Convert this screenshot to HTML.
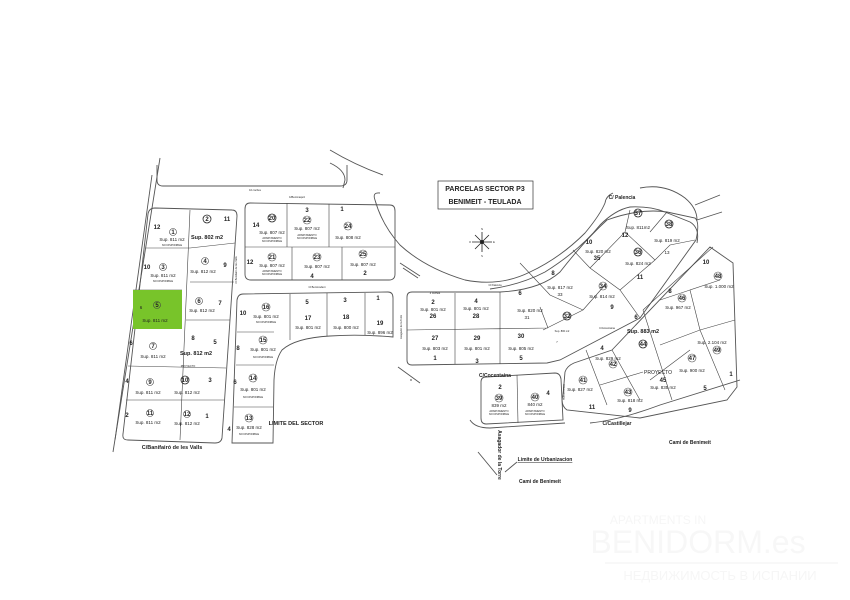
<!DOCTYPE html>
<html><head><meta charset="utf-8"><style>
html,body{margin:0;padding:0;background:#fff}
svg{display:block}
text{font-family:"Liberation Sans",sans-serif;fill:#222;text-anchor:middle}
.n{font-size:6px;font-weight:bold}
.s{font-size:4.5px}
.b{font-size:5.5px;font-weight:bold}
.t{font-size:2.6px}
.c{fill:none;stroke:#222;stroke-width:0.8}
.l{fill:none;stroke:#555;stroke-width:0.9}
.d{fill:none;stroke:#444;stroke-width:0.6}
</style></head><body>
<svg width="850" height="600" viewBox="0 0 850 600" xmlns="http://www.w3.org/2000/svg">
<rect width="850" height="600" fill="#fff"/>
<path class="l" d="M160 158 L113 452"/>
<path class="l" d="M152 175 L115 440"/>
<path class="l" d="M157 165 L157 180 Q157 186 163 186 L340 186 Q347 186 347 180 L347 165"/>
<text class="t" x="255" y="191">16 coches</text>
<text class="t" x="297" y="198">C/Benimaquiz</text>
<!-- Block A -->
<path class="l" d="M155 208 L232 210 Q237 210 237 216 L222 438 Q221 443 215 443 L128 440 Q122 440 123 434 L148 214 Q149 208 155 208 Z"/>
<path class="d" d="M190 210 L180 440 M146 248 L190 248 L235 243 M190 282 L234 282 M133 290 L182 290 M186 320 L230 320 M128 366 L226 368 M126 400 L224 400"/>
<rect x="133" y="290" width="49" height="39" fill="#78c42a"/>
<text class="n" x="157" y="229">12</text>
<text class="n" x="173" y="234">1</text><circle class="d" cx="173" cy="232" r="3.5"/>
<text class="s" x="172" y="241">Sup. 811 m2</text><text class="t" x="172" y="246">NO DISPONIBLE</text>
<text class="n" x="207" y="221">2</text><circle class="c" cx="207" cy="219" r="4"/>
<text class="n" x="227" y="221">11</text>
<text class="b" x="207" y="239">Sup. 802 m2</text>
<text class="n" x="147" y="269">10</text><text class="n" x="163" y="269">3</text><circle class="d" cx="163" cy="267" r="3.5"/>
<text class="s" x="163" y="277">Sup. 811 m2</text><text class="t" x="163" y="282">NO DISPONIBLE</text>
<text class="n" x="205" y="263">4</text><circle class="d" cx="205" cy="261" r="3.5"/>
<text class="s" x="203" y="273">Sup. 812 m2</text><text class="n" x="225" y="267">9</text>
<text class="s" x="141" y="309">6</text><text class="n" x="157" y="307">5</text><circle class="d" cx="157" cy="305" r="3.5"/>
<text class="s" x="155" y="322">Sup. 811 m2</text>
<text class="n" x="199" y="303">6</text><circle class="d" cx="199" cy="301" r="3.5"/>
<text class="s" x="202" y="312">Sup. 812 m2</text><text class="n" x="220" y="305">7</text>
<text class="n" x="131" y="345">6</text><text class="n" x="153" y="348">7</text><circle class="d" cx="153" cy="346" r="3.5"/>
<text class="s" x="153" y="358">Sup. 811 m2</text>
<text class="n" x="193" y="340">8</text><text class="n" x="215" y="344">5</text>
<text class="b" x="196" y="355">Sup. 812 m2</text>
<text class="t" x="188" y="367">PROYECTO</text>
<text class="n" x="127" y="383">4</text><text class="n" x="150" y="384">9</text><circle class="d" cx="150" cy="382" r="3.5"/>
<text class="s" x="148" y="394">Sup. 811 m2</text>
<text class="n" x="185" y="382">10</text><circle class="c" cx="185" cy="380" r="4"/>
<text class="n" x="210" y="382">3</text><text class="s" x="187" y="394">Sup. 812 m2</text>
<text class="n" x="127" y="417">2</text><text class="n" x="150" y="415">11</text><circle class="d" cx="150" cy="413" r="3.5"/>
<text class="s" x="148" y="424">Sup. 811 m2</text>
<text class="n" x="187" y="416">12</text><circle class="d" cx="187" cy="414" r="3.5"/>
<text class="n" x="207" y="418">1</text><text class="s" x="187" y="425">Sup. 812 m2</text>
<text class="b" x="172" y="449">C/Banifairó de les Valls</text>
<text class="t" transform="translate(237,270) rotate(-90)">C/ Benifairó de les Valls</text>
<!-- Block B -->
<path class="l" d="M250 203 L390 205 Q395 205 395 211 L395 274 Q395 280 389 280 L251 280 Q245 280 245 274 L245 209 Q245 203 250 203 Z"/>
<path class="d" d="M245 247 L395 247 M287 203 L287 247 M329 204 L329 247 M292 247 L292 280 M342 247 L342 280"/>
<text class="n" x="256" y="227">14</text><text class="n" x="272" y="220">20</text><circle class="c" cx="272" cy="218" r="4"/>
<text class="s" x="272" y="234">Sup. 807 m2</text><text class="t" x="272" y="239">APARTAMENTO</text><text class="t" x="272" y="242">NO DISPONIBLE</text>
<text class="n" x="307" y="212">3</text><text class="n" x="307" y="222">22</text><circle class="d" cx="307" cy="220" r="4"/>
<text class="s" x="307" y="230">Sup. 807 m2</text><text class="t" x="307" y="236">APARTAMENTO</text><text class="t" x="307" y="239">NO DISPONIBLE</text>
<text class="n" x="342" y="211">1</text><text class="n" x="348" y="228">24</text><circle class="d" cx="348" cy="226" r="4"/>
<text class="s" x="348" y="239">Sup. 808 m2</text>
<text class="n" x="250" y="264">12</text><text class="n" x="272" y="259">21</text><circle class="d" cx="272" cy="257" r="4"/>
<text class="s" x="272" y="267">Sup. 807 m2</text><text class="t" x="272" y="272">APARTAMENTO</text><text class="t" x="272" y="275">NO DISPONIBLE</text>
<text class="n" x="317" y="259">23</text><circle class="d" cx="317" cy="257" r="4"/>
<text class="s" x="317" y="268">Sup. 807 m2</text><text class="n" x="312" y="278">4</text>
<text class="n" x="363" y="256">25</text><circle class="d" cx="363" cy="254" r="4"/>
<text class="s" x="363" y="266">Sup. 807 m2</text><text class="n" x="365" y="275">2</text>
<text class="t" x="317" y="288">Cl Benimodent</text>
<!-- Block C -->
<path class="l" d="M243 294 L388 292 Q393 292 393 298 L393 337 Q360 334 330 336 Q295 338 282 350 Q275 360 274 380 L273 443 L232 443 L237 300 Q238 294 243 294 Z"/>
<path class="d" d="M290 294 L290 340 M327 293 L327 336 M365 293 L365 335 M237 332 L274 332 M236 365 L274 365 M234 407 L273 407"/>
<text class="n" x="243" y="315">10</text><text class="n" x="266" y="309">16</text><circle class="d" cx="266" cy="307" r="4"/>
<text class="s" x="266" y="318">Sup. 801 m2</text><text class="t" x="266" y="323">NO DISPONIBLE</text>
<text class="n" x="307" y="304">5</text><text class="n" x="308" y="320">17</text><text class="s" x="308" y="329">Sup. 801 m2</text>
<text class="n" x="345" y="302">3</text><text class="n" x="346" y="319">18</text><text class="s" x="346" y="329">Sup. 800 m2</text>
<text class="n" x="378" y="300">1</text><text class="n" x="380" y="325">19</text><text class="s" x="380" y="334">Sup. 896 m2</text>
<text class="n" x="238" y="350">8</text><text class="n" x="263" y="342">15</text><circle class="d" cx="263" cy="340" r="4"/>
<text class="s" x="263" y="351">Sup. 801 m2</text><text class="t" x="263" y="358">NO DISPONIBLE</text>
<text class="n" x="235" y="384">6</text><text class="n" x="253" y="380">14</text><circle class="d" cx="253" cy="378" r="4"/>
<text class="s" x="253" y="391">Sup. 801 m2</text><text class="t" x="253" y="398">NO DISPONIBLE</text>
<text class="n" x="229" y="431">4</text><text class="n" x="249" y="420">13</text><circle class="d" cx="249" cy="418" r="4"/>
<text class="s" x="249" y="429">Sup. 828 m2</text><text class="t" x="249" y="435">NO DISPONIBLE</text>
<text class="b" x="296" y="425">LIMITE DEL SECTOR</text>
<text class="t" transform="translate(402,327) rotate(-90)">Asagador de la Torre</text>
<!-- roads -->
<path class="l" d="M330 150 Q355 165 383 175"/>
<path class="l" d="M330 163 Q345 170 345 180 L343 188"/>
<path class="l" d="M380 193 Q372 192 375 200 Q382 225 400 245 Q425 268 465 280 Q500 287 530 272 Q560 258 585 233 Q600 215 605 203 Q606 196 613 193"/>
<path class="l" d="M400 263 L420 276 M403 268 L418 278"/>
<path class="l" d="M490 289 Q520 285 545 272 Q580 250 600 225 Q615 210 630 207 Q650 206 665 212 L690 222 Q700 228 697 243"/>
<path class="l" d="M640 188 Q665 183 685 198 Q697 208 697 220"/>
<path class="l" d="M398 367 L420 383 M410 380 L412 380"/>
<path class="l" d="M695 205 L720 195 M697 220 L722 212"/>
<text class="t" x="495" y="286">Cl Palencia</text>
<text class="b" x="622" y="199" style="font-size:5px">C/ Palencia</text>
<!-- title -->
<rect x="438" y="181" width="95" height="28" fill="#fff" stroke="#333" stroke-width="0.7"/>
<text class="b" x="485" y="191" style="font-size:7px">PARCELAS SECTOR P3</text>
<text class="b" x="485" y="204" style="font-size:7px">BENIMEIT  -  TEULADA</text>
<g stroke="#222" stroke-width="0.8"><path d="M482 232 L482 252 M472 242 L492 242 M475 235 L489 249 M489 235 L475 249"/></g>
<circle cx="482" cy="242" r="2" fill="#222"/>
<text class="t" x="470" y="243">O</text><text class="t" x="494" y="243">E</text><text class="t" x="482" y="230">N</text><text class="t" x="482" y="257">S</text>
<!-- Block D + 31-33 -->
<path class="l" d="M412 292 L500 292 Q540 290 560 272 Q585 240 607 220 Q640 208 667 212 L695 218 Q700 222 696 240 L640 318 L560 360 L547 363 L412 365 Q407 365 407 360 L407 297 Q407 292 412 292 Z"/>
<path class="d" d="M407 330 L548 328 M455 293 L455 364 M500 292 L500 364 M548 328 L540 307 M543 330 L583 310 M520 263 L550 295 L583 310 M583 310 L605 285 M573 250 L590 268 L620 290 L640 318 M590 268 L625 232 L655 260 M625 232 L630 210 M655 260 L670 245 L695 240 M620 290 L655 260 M667 212 L650 232"/>
<text class="t" x="435" y="294">4 coches</text>
<text class="n" x="433" y="304">2</text><text class="s" x="433" y="311">Sup. 801 m2</text><text class="n" x="433" y="318">26</text>
<text class="n" x="476" y="303">4</text><text class="s" x="476" y="310">Sup. 801 m2</text><text class="n" x="476" y="318">28</text>
<text class="n" x="520" y="295">6</text><text class="s" x="530" y="312">Sup. 820 m2</text><text class="s" x="527" y="319">31</text>
<text class="n" x="553" y="275">8</text><text class="s" x="560" y="289">Sup. 817 m2</text><text class="s" x="560" y="296">33</text>
<text class="n" x="567" y="318">32</text><circle class="c" cx="567" cy="316" r="4"/>
<text class="t" x="562" y="332">Sup. 800 m2</text><text class="t" x="557" y="343">7</text>
<text class="n" x="435" y="340">27</text><text class="s" x="435" y="350">Sup. 803 m2</text><text class="n" x="435" y="360">1</text>
<text class="n" x="477" y="340">29</text><text class="s" x="477" y="350">Sup. 801 m2</text><text class="n" x="477" y="363">3</text>
<text class="n" x="521" y="338">30</text><text class="s" x="521" y="350">Sup. 805 m2</text><text class="n" x="521" y="360">5</text>
<text class="n" x="589" y="244">10</text><text class="s" x="598" y="253">Sup. 820 m2</text><text class="n" x="597" y="260">35</text>
<text class="n" x="603" y="288">34</text><circle class="d" cx="603" cy="286" r="4"/>
<text class="s" x="602" y="298">Sup. 814 m2</text><text class="n" x="612" y="309">9</text>
<text class="n" x="638" y="215">37</text><circle class="c" cx="638" cy="213" r="4"/>
<text class="s" x="638" y="229">Sup. 811m2</text><text class="n" x="625" y="237">12</text>
<text class="n" x="669" y="226">38</text><circle class="c" cx="669" cy="224" r="4"/>
<text class="s" x="667" y="242">Sup. 819 m2</text><text class="s" x="667" y="254">13</text>
<text class="n" x="638" y="254">36</text><circle class="c" cx="638" cy="252" r="4"/>
<text class="s" x="638" y="265">Sup. 824 m2</text><text class="n" x="640" y="279">11</text>
<text class="t" x="607" y="329">C/Cocentaina</text>
<!-- right block -->
<path class="l" d="M612 350 L710 247 L733 263 L737 387 L727 400 L640 418 L567 410 Q560 405 563 395 L565 372 Q567 366 574 363 Z"/>
<path class="d" d="M643 310 L713 247 M643 310 L672 400 M612 350 L640 400 M586 350 L607 405 M600 385 L643 372 M660 345 L700 330 L735 320 M700 330 L690 290 L720 280 M690 290 L660 300 M700 330 L725 390 M650 380 L690 350"/>
<text class="n" x="706" y="264">10</text><text class="n" x="718" y="278">48</text><circle class="d" cx="718" cy="276" r="4"/>
<text class="s" x="719" y="288">Sup. 1.000 m2</text>
<text class="n" x="670" y="293">8</text><text class="n" x="682" y="300">46</text><circle class="d" cx="682" cy="298" r="4"/>
<text class="s" x="678" y="309">Sup. 967 m2</text>
<text class="n" x="636" y="319">6</text><text class="b" x="643" y="333">Sup. 883 m2</text>
<text class="n" x="643" y="346">44</text><circle class="c" cx="643" cy="344" r="4"/>
<text class="s" x="712" y="344">Sup. 2.104 m2</text><text class="n" x="717" y="352">49</text><circle class="d" cx="717" cy="350" r="4"/>
<text class="n" x="692" y="360">47</text><circle class="d" cx="692" cy="358" r="4"/>
<text class="s" x="692" y="372">Sup. 900 m2</text><text class="n" x="731" y="376">1</text>
<text class="n" x="602" y="350">4</text><text class="s" x="608" y="360">Sup. 829 m2</text>
<text class="n" x="613" y="366">42</text><circle class="d" cx="613" cy="364" r="4"/>
<text class="s" x="658" y="374" style="font-size:5px">PROYECTO</text>
<text class="n" x="663" y="382">45</text><text class="s" x="663" y="389">Sup. 835 m2</text>
<text class="n" x="583" y="382">41</text><circle class="d" cx="583" cy="380" r="4"/>
<text class="s" x="580" y="391">Sup. 827 m2</text>
<text class="n" x="628" y="394">43</text><circle class="d" cx="628" cy="392" r="4"/>
<text class="s" x="630" y="402">Sup. 818 m2</text><text class="n" x="630" y="412">9</text>
<text class="n" x="592" y="409">11</text><text class="n" x="705" y="390">5</text>
<text class="b" x="617" y="425" style="font-size:5px">C/Castillejar</text>
<path class="l" d="M590 423 Q620 420 660 405 L740 380"/>
<text class="b" x="690" y="444" style="font-size:5px">Cami de Benimeit</text>
<text class="t" transform="translate(563,392) rotate(90)">C/Cocentaina</text>
<!-- block 39/40 -->
<path class="l" d="M486 377 L555 373 Q560 373 561 379 L563 420 L486 424 Q481 424 481 418 L481 382 Q481 377 486 377 Z"/>
<path class="d" d="M517 375 L518 423"/>
<path class="l" d="M470 420 Q475 428 490 428 L565 423"/>
<text class="b" x="495" y="377" style="font-size:5px">C/Cocentaina</text>
<text class="n" x="500" y="389">2</text><text class="n" x="499" y="400">39</text><circle class="d" cx="499" cy="398" r="4"/>
<text class="s" x="499" y="407">839 m2</text><text class="t" x="499" y="412">APARTAMENTO</text><text class="t" x="499" y="415">NO DISPONIBLE</text>
<text class="n" x="535" y="399">40</text><circle class="d" cx="535" cy="397" r="4"/>
<text class="s" x="535" y="406">840 m2</text><text class="t" x="535" y="412">APARTAMENTO</text><text class="t" x="535" y="415">NO DISPONIBLE</text>
<text class="n" x="548" y="395">4</text>
<text class="b" transform="translate(498,455) rotate(90)" style="font-size:5px">Asagador de la Torre</text>
<path class="l" d="M478 452 L497 475 M505 472 L517 462"/>
<text class="b" x="545" y="461" style="font-size:5px;text-decoration:underline">Limite de Urbanizacion</text>
<text class="b" x="540" y="483" style="font-size:5px">Cami de Benimeit</text>
<!-- watermark -->
<text x="658" y="524" style="font-size:12px;fill:#f6f6f6">APARTMENTS IN</text>
<text x="698" y="553" style="font-size:32px;fill:#f7f7f7">BENIDORM.es</text>
<text x="720" y="580" style="font-size:13px;fill:#f6f6f6">НЕДВИЖИМОСТЬ В ИСПАНИИ</text>
<path d="M605 563 L838 563" stroke="#f2f2f2" stroke-width="1"/>
</svg>
</body></html>
